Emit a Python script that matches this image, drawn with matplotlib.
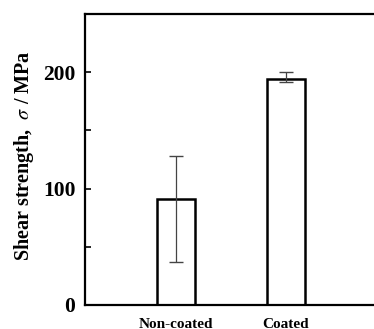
import matplotlib
matplotlib.use("Agg")
import matplotlib.pyplot as plt
import numpy as np
from matplotlib.ticker import MultipleLocator

categories = ["Non-coated", "Coated"]
values = [91, 194]
err_lower = [54, 2]
err_upper = [37, 6]

plt.rcParams['font.family'] = ['Liberation Serif', 'DejaVu Serif']
plt.rcParams['mathtext.fontset'] = 'stix'

fig = plt.figure(figsize=(3.74, 3.29), dpi=100)
ax = fig.add_axes([85/374, 1 - 305/329, 1 - 85/374, (305 - 14)/329])

x = np.arange(len(categories))
ax.bar(x, values, width=0.34, color='white', edgecolor='black', linewidth=1.8, zorder=2)
ax.errorbar(x, values, yerr=[err_lower, err_upper], fmt='none', ecolor='#444444',
            elinewidth=0.9, capsize=5, capthick=1.0, zorder=3)

ax.set_xlim(-0.825, 1.8)
ax.set_ylim(0, 250)
ax.set_xticks(x)
ax.set_xticklabels(categories, fontsize=11, fontweight='bold')
ax.tick_params(axis='x', length=0, pad=9)
ax.yaxis.set_major_locator(MultipleLocator(100))
ax.yaxis.set_minor_locator(MultipleLocator(50))
ax.tick_params(axis='y', which='both', direction='in', length=4, width=1.2, labelsize=15.5, pad=7)
for lab in ax.get_yticklabels():
    lab.set_fontweight('bold')
ax.set_ylabel(r"Shear strength,  $\sigma$ / MPa", fontsize=14.5, fontweight='bold')
ax.yaxis.set_label_coords(-0.168, 0.515)
for s in ['left', 'bottom', 'top']:
    ax.spines[s].set_linewidth(1.6)
ax.spines['right'].set_visible(False)

fig.savefig("out.png", dpi=100)
